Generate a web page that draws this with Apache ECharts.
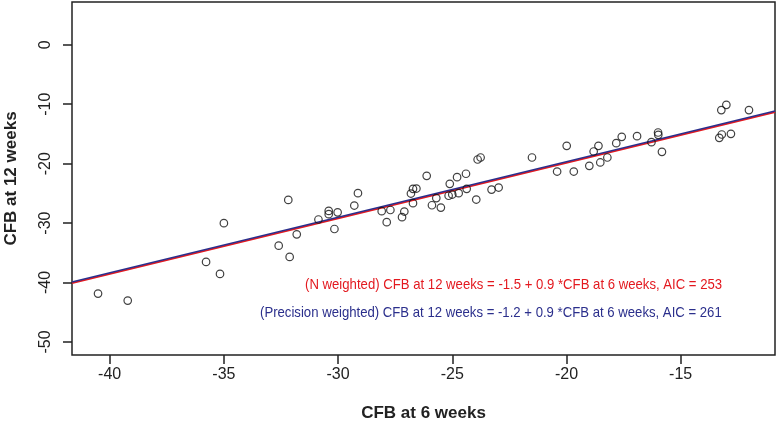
<!DOCTYPE html>
<html>
<head>
<meta charset="utf-8">
<script src="https://cdn.jsdelivr.net/npm/echarts@6/dist/echarts.min.js"></script>
<style>html,body{margin:0;padding:0;background:#fff}#c{width:778px;height:427px}</style>
</head>
<body>
<div id="c"></div>
<script>
// CFB at 6 weeks (x) and CFB at 12 weeks (y), one entry per study arm
const cfb6 = [-40.51,-39.21,-35.78,-35.17,-35.0,-32.6,-32.12,-32.18,-31.81,-30.86,-30.41,-30.41,-30.02,-30.16,-29.29,-29.13,-28.09,-27.71,-27.87,-27.1,-27.2,-26.72,-26.81,-26.72,-26.57,-26.12,-25.89,-25.5,-25.7,-25.11,-24.79,-24.4,-25.16,-25.0,-24.72,-24.37,-23.95,-23.89,-23.76,-23.28,-22.97,-21.51,-20.41,-19.99,-19.68,-19.0,-18.81,-18.6,-18.52,-18.21,-17.82,-17.58,-16.91,-16.28,-15.99,-15.98,-15.82,-13.31,-13.2,-13.22,-13.0,-12.8,-12.01];
const cfb12 = [-41.87,-43.05,-36.53,-38.55,-30.02,-33.8,-35.7,-26.1,-31.9,-29.4,-27.95,-28.5,-28.2,-31.0,-27.05,-24.97,-28.0,-27.8,-29.85,-28.06,-29.0,-26.65,-25.03,-24.24,-24.19,-22.05,-27.0,-27.4,-25.8,-23.4,-22.28,-21.7,-25.4,-25.2,-24.97,-24.24,-26.04,-19.3,-18.97,-24.36,-24.02,-18.97,-21.33,-17.0,-21.33,-20.37,-17.96,-17.0,-19.8,-18.97,-16.55,-15.49,-15.38,-16.38,-14.76,-15.15,-18.01,-15.66,-15.1,-10.99,-10.1,-14.98,-10.99];
// regression lines [intercept, slope]
const nWeightedFit = [-1.15, 0.935];
const precisionWeightedFit = [-0.97, 0.935];
// axis ranges and ticks
const xRange = [-41.65, -10.87];
const yRange = [-52.2, 7.2];
const xTicks = [-40, -35, -30, -25, -20, -15];
const yTicks = [0, -10, -20, -30, -40, -50];
const nLabel = "(N weighted) CFB at 12 weeks = -1.5 + 0.9 *CFB at 6 weeks, AIC = 253";
const pLabel = "(Precision weighted) CFB at 12 weeks = -1.2 + 0.9 *CFB at 6 weeks, AIC = 261";

const FONT = "'Liberation Sans', Arial, sans-serif";
const points = cfb6.map((x, i) => [x, cfb12[i]]);
const fitLine = f => xRange.map(x => [x, f[0] + f[1] * x]);

const chart = echarts.init(document.getElementById('c'), null, {renderer: 'canvas'});
chart.setOption({
  animation: false,
  backgroundColor: '#fff',
  grid: {left: 72, right: 3, top: 2, bottom: 72, containLabel: false, outerBoundsMode: 'none',
         show: true, borderColor: '#222', borderWidth: 1.5, backgroundColor: 'transparent'},
  xAxis: {
    type: 'value', min: xRange[0], max: xRange[1],
    splitLine: {show: false},
    axisLine: {show: false, onZero: false},
    axisTick: {show: true, length: 9, inside: false, customValues: xTicks, lineStyle: {color: '#222', width: 1.5}},
    axisLabel: {customValues: xTicks, margin: 12, color: '#222', fontFamily: FONT, fontSize: 16},
    name: 'CFB at 6 weeks', nameLocation: 'middle', nameGap: 50,
    nameTextStyle: {fontFamily: FONT, fontWeight: 'bold', fontSize: 17, color: '#222'}
  },
  yAxis: {
    type: 'value', min: yRange[0], max: yRange[1],
    splitLine: {show: false},
    axisLine: {show: false, onZero: false},
    axisTick: {show: true, length: 9, inside: false, customValues: yTicks, lineStyle: {color: '#222', width: 1.5}},
    axisLabel: {customValues: yTicks, margin: 18, rotate: 90, color: '#222', fontFamily: FONT, fontSize: 16},
    name: 'CFB at 12 weeks', nameLocation: 'middle', nameGap: 52,
    nameTextStyle: {fontFamily: FONT, fontWeight: 'bold', fontSize: 17, color: '#222'}
  },
  series: [
    {type: 'line', data: fitLine(nWeightedFit), symbol: 'none', lineStyle: {color: '#e3191f', width: 1.8}, z: 2},
    {type: 'line', data: fitLine(precisionWeightedFit), symbol: 'none', lineStyle: {color: '#2b2f8c', width: 1.6}, z: 3},
    {type: 'scatter', data: points, symbol: 'circle', symbolSize: 7.5,
     itemStyle: {color: 'rgba(255,255,255,0)', borderColor: '#111', borderWidth: 1.2}, z: 5}
  ],
  graphic: [
    {type: 'text', x: 305, y: 285, scaleX: 0.877, style: {text: nLabel, fill: '#e3191f', font: "15px " + FONT, textAlign: 'left', textVerticalAlign: 'middle', verticalAlign: 'middle'}},
    {type: 'text', x: 260, y: 313, scaleX: 0.877, style: {text: pLabel, fill: '#2b2f8c', font: "15px " + FONT, textAlign: 'left', textVerticalAlign: 'middle', verticalAlign: 'middle'}}
  ]
});
</script>
</body>
</html>
